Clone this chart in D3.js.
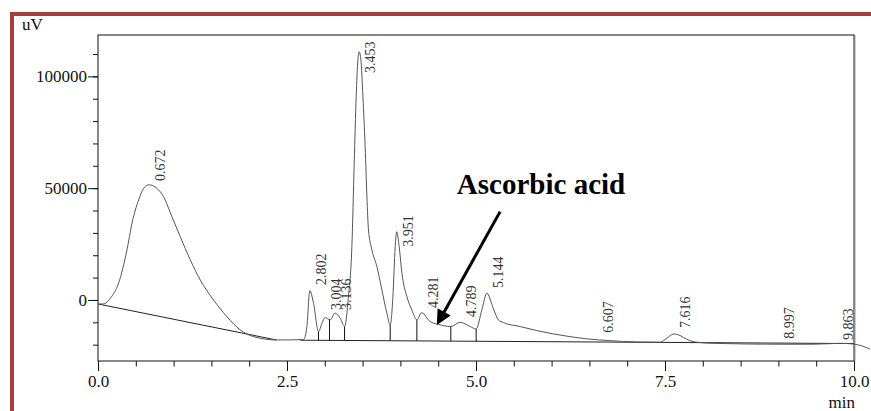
<!DOCTYPE html>
<html>
<head>
<meta charset="utf-8">
<script src="https://cdn.jsdelivr.net/npm/d3@7"></script>
<style>
  body { margin: 0; background: #fff; }
  svg { display: block; font-family: "Liberation Serif", "Times New Roman", serif; }
  .trace { fill: none; stroke: #555; stroke-width: 1; }
  .baseline { fill: none; stroke: #222; stroke-width: 1; }
  .drop { stroke: #111; stroke-width: 1; }
  .frame { fill: none; stroke: #111; stroke-width: 1; }
  .border { stroke: #a3403b; stroke-width: 4; }
  .peak-label { font-size: 14px; fill: #333; }
  .axis-title { font-size: 17px; fill: #111; }
</style>
</head>
<body>
<svg width="871" height="411"></svg>
<script>
// chromatogram trace (min, uV)
var traceTime = [0, 0.074, 0.163, 0.272, 0.383, 0.450, 0.537, 0.603, 0.672, 0.780,
  0.867, 0.978, 1.088, 1.221, 1.353, 1.528, 1.706, 1.882, 2.057, 2.367,
  2.719, 2.763, 2.802, 2.851, 2.917, 2.962, 3.004, 3.072, 3.136, 3.204,
  3.261, 3.313, 3.358, 3.389, 3.415, 3.438, 3.453, 3.478, 3.504, 3.534,
  3.557, 3.578, 3.623, 3.689, 3.755, 3.821, 3.865, 3.901, 3.931, 3.951,
  3.984, 4.020, 4.086, 4.152, 4.218, 4.281, 4.394, 4.482, 4.667, 4.789,
  4.923, 5.002, 5.077, 5.144, 5.231, 5.297, 5.363, 5.584, 5.805, 6.024,
  6.244, 6.466, 6.774, 7.127, 7.435, 7.524, 7.616, 7.699, 7.788, 7.897,
  8.140, 9.022, 9.458, 9.815, 9.991, 10.21];
var traceSignal = [-1800, -1800, 760, 7470, 22350, 34400, 44700, 49900, 51500, 49900,
  46200, 37200, 28300, 17900, 8900, 0, -7500, -13400, -16400, -17900,
  -17700, -11900, 4200, -1500, -14200, -10400, -7900, -8900, -5900, -8200,
  -11900, 1500, 23800, 61100, 90900, 107300, 111000, 107300, 90900, 68500,
  46200, 31300, 22400, 14900, 4500, -5900, -11200, 1500, 23800, 30500,
  23800, 11900, 1500, -4500, -8900, -5700, -9700, -10700, -11900, -10000,
  -11900, -13000, -4500, 3000, -4000, -8900, -10100, -11900, -13700, -15200,
  -16400, -17400, -18200, -18800, -18900, -17100, -15200, -15900, -17600, -18800,
  -19400, -19800, -19800, -19400, -19700, -21900];

// integration baselines
var baseATime = [0, 2.36], baseASignal = [-1800, -17900];
var baseBTime = [2.675, 10.0], baseBSignal = [-18000, -19500];

// drop lines between unresolved peaks
var dropTimes = [2.917, 3.062, 3.261, 3.865, 4.218, 4.667, 5.002];

// peak retention times and the level where each label starts
var peakTimes = [0.672, 2.802, 3.004, 3.136, 3.453, 3.951, 4.281, 4.789, 5.144, 6.607, 7.616, 8.997, 9.863];
var peakLabelLevel = [53200, 6700, -4500, -4500, 101500, 23800, -3600, -7600, 5400, -14700, -12500, -17400, -17900];

var xMajor = [0, 2.5, 5, 7.5, 10];
var yMajor = [0, 50000, 100000];

var noteText = "Ascorbic acid",
    noteAt = [4.747, 47250],
    arrowFrom = [5.319, 39500],
    arrowTo = [4.482, -11200];

var svg = d3.select("svg"),
    margin = { top: 35, right: 17, bottom: 50, left: 98 },
    width = +svg.attr("width"),
    height = +svg.attr("height");

var x = d3.scaleLinear().domain([0, 10]).range([margin.left, width - margin.right]);
var y = d3.scaleLinear().domain([-27300, 118500]).range([height - margin.bottom, margin.top]);

// outer page border
svg.append("line").attr("class", "border")
  .attr("x1", 10).attr("x2", width).attr("y1", 14).attr("y2", 14);
svg.append("line").attr("class", "border")
  .attr("x1", 12).attr("x2", 12).attr("y1", 12).attr("y2", height);

// frame
svg.append("rect").attr("class", "frame")
  .attr("x", x(0)).attr("y", y.range()[1])
  .attr("width", x(10) - x(0)).attr("height", y.range()[0] - y.range()[1]);
svg.append("line")
  .attr("x1", x(10) + 1.5).attr("x2", x(10) + 1.5)
  .attr("y1", y.range()[1]).attr("y2", y.range()[0])
  .style("stroke", "#ccc");

// axes: major ticks with labels, minor ticks without
var xAxis = svg.append("g").attr("transform", "translate(0," + y.range()[0] + ")");
xAxis.append("g").call(d3.axisBottom(x).tickValues(d3.range(0, 10.01, 0.5)).tickSize(5.5).tickFormat(""));
xAxis.append("g").call(d3.axisBottom(x).tickValues(xMajor).tickSize(10).tickPadding(4).tickFormat(d3.format(".1f")));

var yAxis = svg.append("g").attr("transform", "translate(" + x(0) + ",0)");
yAxis.append("g").call(d3.axisLeft(y).tickValues(d3.range(-20000, 110001, 10000)).tickSize(5).tickFormat(""));
yAxis.append("g").call(d3.axisLeft(y).tickValues(yMajor).tickSize(10).tickPadding(1).tickFormat(d3.format("d")));

svg.selectAll(".domain").remove();
svg.selectAll(".tick line").style("stroke", "#111");
svg.selectAll(".tick text")
  .style("font-family", "Liberation Serif, Times New Roman, serif")
  .style("font-size", "17px")
  .style("fill", "#111");

svg.append("text").attr("class", "axis-title").attr("x", 22).attr("y", 30).text("uV");
svg.append("text").attr("class", "axis-title").attr("x", 855).attr("y", 408)
  .style("text-anchor", "end").text("min");

// trace and baselines
var line = d3.line()
  .x(function (d) { return x(d[0]); })
  .y(function (d) { return y(d[1]); });

svg.append("path").attr("class", "baseline")
  .datum(d3.zip(baseATime, baseASignal)).attr("d", line);
svg.append("path").attr("class", "baseline")
  .datum(d3.zip(baseBTime, baseBSignal)).attr("d", line);

svg.append("path").attr("class", "trace")
  .datum(d3.zip(traceTime, traceSignal))
  .attr("d", line.curve(d3.curveMonotoneX));

var signalAt = d3.scaleLinear().domain(traceTime).range(traceSignal);
var baseAt = d3.scaleLinear().domain(baseBTime).range(baseBSignal);

svg.selectAll(".drop")
  .data(dropTimes)
  .enter().append("line")
    .attr("class", "drop")
    .attr("x1", function (d) { return x(d); })
    .attr("x2", function (d) { return x(d); })
    .attr("y1", function (d) { return y(signalAt(d)); })
    .attr("y2", function (d) { return y(baseAt(d)); });

// peak labels, rotated
svg.selectAll(".peak-label")
  .data(peakTimes)
  .enter().append("text")
    .attr("class", "peak-label")
    .attr("transform", function (d, i) {
      var px = Math.min(x(d) + 16, x(10) - 1);
      return "translate(" + px + "," + y(peakLabelLevel[i]) + ")rotate(-90)";
    })
    .text(function (d) { return d3.format(".3f")(d); });

// annotation
svg.append("text")
  .attr("x", x(noteAt[0])).attr("y", y(noteAt[1]))
  .style("font-size", "29px").style("font-weight", "bold").style("fill", "#000")
  .text(noteText);

var ax0 = x(arrowFrom[0]), ay0 = y(arrowFrom[1]),
    ax1 = x(arrowTo[0]), ay1 = y(arrowTo[1]),
    ang = Math.atan2(ay1 - ay0, ax1 - ax0),
    headLen = 15, headHalf = 7.5,
    bx = ax1 - headLen * Math.cos(ang),
    by = ay1 - headLen * Math.sin(ang);

svg.append("line")
  .attr("x1", ax0).attr("y1", ay0).attr("x2", bx + 2 * Math.cos(ang)).attr("y2", by + 2 * Math.sin(ang))
  .style("stroke", "#000").style("stroke-width", 3);
svg.append("polygon")
  .attr("points", [
    [ax1, ay1],
    [bx + headHalf * Math.sin(ang), by - headHalf * Math.cos(ang)],
    [bx - headHalf * Math.sin(ang), by + headHalf * Math.cos(ang)]
  ].join(" "))
  .style("fill", "#000");
</script>
</body>
</html>
